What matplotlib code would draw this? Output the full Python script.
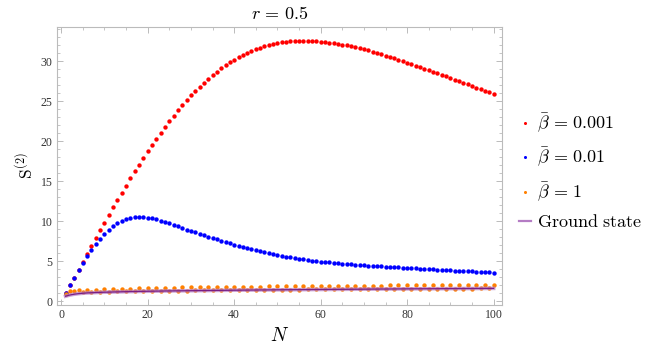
"""
S^(2) vs N, r = 0.5
"""
import matplotlib
matplotlib.use("Agg")
import matplotlib.pyplot as plt
from matplotlib.lines import Line2D
from matplotlib.ticker import MultipleLocator

plt.rcParams['mathtext.fontset'] = 'cm'
plt.rcParams['font.family'] = ['Liberation Serif', 'DejaVu Serif']

# ----数据-----
n_vals = list(range(1, 101))

red_s = [0.95, 1.95, 2.93, 3.9, 4.9, 5.9, 6.9, 7.9, 8.85, 9.8,
         10.75, 11.7, 12.62, 13.54, 14.42, 15.33, 16.2, 17.05, 17.9, 18.7,
         19.5, 20.28, 21.03, 21.77, 22.48, 23.17, 23.85, 24.5, 25.12, 25.71,
         26.26, 26.8, 27.3, 27.78, 28.24, 28.67, 29.08, 29.46, 29.82, 30.16,
         30.47, 30.76, 31.02, 31.26, 31.49, 31.69, 31.87, 32.03, 32.16, 32.27,
         32.36, 32.43, 32.49, 32.53, 32.55, 32.56, 32.55, 32.52, 32.48, 32.43,
         32.37, 32.3, 32.22, 32.14, 32.05, 31.96, 31.86, 31.75, 31.63, 31.5,
         31.35, 31.19, 31.02, 30.85, 30.68, 30.5, 30.33, 30.16, 29.98, 29.8,
         29.62, 29.44, 29.25, 29.06, 28.87, 28.68, 28.49, 28.29, 28.09, 27.89,
         27.69, 27.49, 27.29, 27.09, 26.89, 26.69, 26.49, 26.29, 26.1, 25.92]

blue_s = [0.96, 1.95, 2.92, 3.88, 4.78, 5.62, 6.42, 7.15, 7.8, 8.38,
          8.9, 9.35, 9.72, 10.02, 10.24, 10.38, 10.46, 10.49, 10.47, 10.42,
          10.33, 10.2, 10.05, 9.88, 9.7, 9.51, 9.32, 9.13, 8.94, 8.76,
          8.58, 8.41, 8.24, 8.06, 7.88, 7.7, 7.53, 7.36, 7.2, 7.04,
          6.89, 6.74, 6.6, 6.46, 6.33, 6.2, 6.08, 5.96, 5.85, 5.74,
          5.64, 5.54, 5.45, 5.36, 5.28, 5.2, 5.13, 5.06, 5.0, 4.94,
          4.88, 4.83, 4.78, 4.73, 4.68, 4.64, 4.6, 4.56, 4.52, 4.48,
          4.44, 4.4, 4.36, 4.33, 4.29, 4.26, 4.23, 4.2, 4.17, 4.14,
          4.11, 4.08, 4.05, 4.02, 3.99, 3.96, 3.93, 3.9, 3.87, 3.84,
          3.81, 3.78, 3.75, 3.72, 3.69, 3.66, 3.63, 3.6, 3.57, 3.54]

orange_s = [0.85, 1.3, 1.25, 1.33, 1.12, 1.38, 1.13, 1.42, 1.15, 1.46,
            1.17, 1.5, 1.19, 1.53, 1.21, 1.56, 1.23, 1.59, 1.24, 1.61,
            1.26, 1.63, 1.27, 1.65, 1.28, 1.67, 1.3, 1.69, 1.31, 1.71,
            1.32, 1.72, 1.33, 1.74, 1.34, 1.75, 1.35, 1.77, 1.36, 1.78,
            1.37, 1.79, 1.38, 1.8, 1.39, 1.81, 1.4, 1.82, 1.41, 1.83,
            1.42, 1.84, 1.42, 1.85, 1.43, 1.86, 1.44, 1.87, 1.45, 1.88,
            1.46, 1.89, 1.46, 1.9, 1.47, 1.9, 1.48, 1.91, 1.48, 1.92,
            1.49, 1.93, 1.5, 1.93, 1.5, 1.94, 1.51, 1.95, 1.52, 1.95,
            1.52, 1.96, 1.53, 1.96, 1.53, 1.97, 1.54, 1.97, 1.55, 1.98,
            1.55, 1.98, 1.56, 1.99, 1.56, 1.99, 1.57, 2.0, 1.57, 2.0]

gs_n = [1, 2, 3, 4, 5, 6, 8, 10, 13, 16, 20, 25, 30, 40, 50, 60, 70, 80, 90, 100]
gs_s = [0.6, 0.75, 0.85, 0.92, 0.97, 1.01, 1.06, 1.1, 1.14, 1.18,
        1.22, 1.26, 1.29, 1.35, 1.4, 1.44, 1.48, 1.52, 1.55, 1.58]

labels = [r'$\bar{\beta}\,=\,0.001$', r'$\bar{\beta}\,=\,0.01$', r'$\bar{\beta}\,=\,1$',
          r'$\mathrm{Ground\ state}$']

# ----画图-----
fig = plt.figure(figsize=(6.54, 3.47), dpi=100)
ax = fig.add_axes([0.087, 0.121, 0.681, 0.801])

ax.scatter(n_vals, red_s, s=10, c='#ff0000', linewidths=0, zorder=3)
ax.scatter(n_vals, blue_s, s=10, c='#0000ff', linewidths=0, zorder=3)
ax.scatter(n_vals, orange_s, s=10, c='#ff8000', linewidths=0, zorder=3)
ax.plot(gs_n, gs_s, color='#b47cc4', lw=2.6, alpha=0.7, zorder=4)
ax.plot(gs_n, gs_s, color='#7a1f86', lw=0.9, zorder=5)

ax.set_xlim(-1.0, 102)
ax.set_ylim(-0.5, 34.25)
ax.xaxis.set_major_locator(MultipleLocator(20))
ax.xaxis.set_minor_locator(MultipleLocator(5))
ax.yaxis.set_major_locator(MultipleLocator(5))
ax.yaxis.set_minor_locator(MultipleLocator(1))
ax.tick_params(which='both', direction='in', top=True, right=True,
               color='#bbbbbb', labelcolor='#333333', labelsize=8.5, pad=3)
ax.tick_params(which='major', length=4, width=0.7)
ax.tick_params(which='minor', length=2, width=0.6)
for sp in ax.spines.values():
    sp.set_color('#bbbbbb')
    sp.set_linewidth(0.8)

ax.set_title(r'$r\,=\,0.5$', fontsize=13, pad=6)
ax.set_xlabel(r'$N$', fontsize=14, labelpad=4)
ax.set_ylabel(r'$\mathrm{S}^{(2)}$', fontsize=12.5, labelpad=3)

handles = [Line2D([], [], ls='none', marker='o', ms=2.2, mec='none', mfc='#ff0000'),
           Line2D([], [], ls='none', marker='o', ms=2.2, mec='none', mfc='#0000ff'),
           Line2D([], [], ls='none', marker='o', ms=2.2, mec='none', mfc='#ff8000'),
           Line2D([], [], color='#b47cc4', lw=1.6)]
ax.legend(handles, labels, loc='center left', bbox_to_anchor=(1.0, 0.48),
          frameon=False, fontsize=13, handlelength=0.7, handletextpad=0.3,
          labelspacing=0.6)

fig.savefig('out.png', dpi=100)
